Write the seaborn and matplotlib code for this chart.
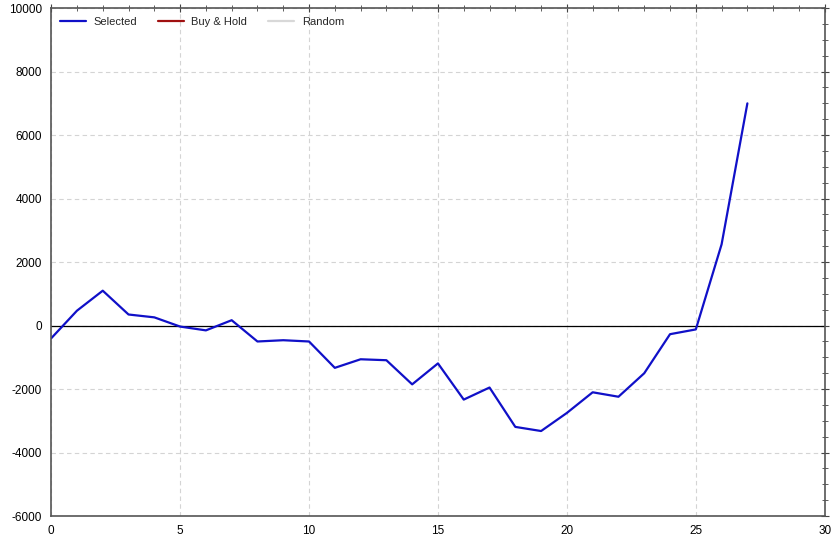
import numpy as np
import pandas as pd
import seaborn as sns
import matplotlib.pyplot as plt
from matplotlib.lines import Line2D
from matplotlib.ticker import MultipleLocator

# values
periods = list(range(28))
selected = [-400, 470, 1100, 350, 260, -30, -150, 170, -500, -460,
            -500, -1330, -1060, -1090, -1850, -1190, -2330, -1950, -3190, -3320,
            -2750, -2100, -2240, -1500, -270, -120, 2560, 7000]
legend_labels = ['Selected', 'Buy & Hold', 'Random']
legend_colors = ['#1010c8', '#a01010', '#d8d8d8']

df = pd.DataFrame({'period': periods, 'value': selected})

sns.set_style('white')
plt.rcParams['font.family'] = ['Liberation Sans', 'DejaVu Sans']
plt.rcParams['axes.unicode_minus'] = False

fig = plt.figure(figsize=(8.39, 5.41), dpi=100)
ax = fig.add_axes([0.061, 0.046, 0.922, 0.939])

sns.lineplot(data=df, x='period', y='value', color=legend_colors[0], linewidth=1.6, ax=ax)
ax.axhline(0, color='black', linewidth=0.9, zorder=1)

ax.set_xlim(0, 30)
ax.set_ylim(-6000, 10000)
ax.xaxis.set_major_locator(MultipleLocator(5))
ax.xaxis.set_minor_locator(MultipleLocator(1))
ax.yaxis.set_major_locator(MultipleLocator(2000))
ax.yaxis.set_minor_locator(MultipleLocator(500))
ax.grid(True, which='major', color='#d4d4d4', linestyle=(0, (4, 3)), linewidth=0.8)
ax.tick_params(which='both', direction='inout', top=True, right=True, colors='#444444',
               labelcolor='black', labelsize=8.5)
ax.tick_params(which='major', length=6)
ax.tick_params(which='minor', length=4)
for s in ax.spines.values():
    s.set_color('#555555')
    s.set_linewidth(1.2)
ax.set_xlabel('')
ax.set_ylabel('')

handles = [Line2D([], [], color=c, linewidth=1.6) for c in legend_colors]
ax.legend(handles, legend_labels, loc='upper left', ncol=3, frameon=False, fontsize=8,
          handlelength=2.3, handletextpad=0.7, columnspacing=1.9,
          borderaxespad=0.2, borderpad=0.6)

fig.savefig('out.png', dpi=100)
